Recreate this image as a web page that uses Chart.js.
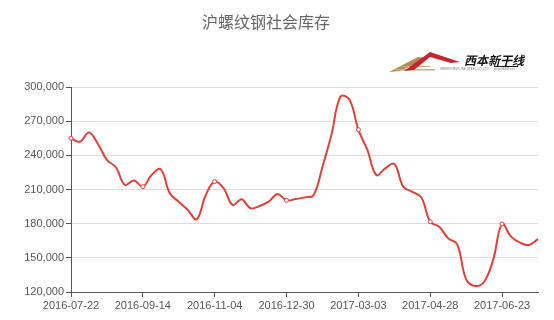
<!DOCTYPE html>
<html>
<head>
<meta charset="utf-8">
<script src="https://cdn.jsdelivr.net/npm/chart.js@4"></script>
<style>
  html, body { margin: 0; padding: 0; background: #fff; }
  #wrap { width: 554px; height: 320px; position: relative; }
</style>
</head>
<body>
<div id="wrap"><canvas id="chart"></canvas></div>
<script>
const chartTitle = "沪螺纹钢社会库存";

const dates = [
  "2016-07-22", "2016-07-29", "2016-08-05", "2016-08-12", "2016-08-19", "2016-08-26", "2016-09-02", "2016-09-09",
  "2016-09-14", "2016-09-18", "2016-09-23", "2016-09-30", "2016-10-09", "2016-10-14", "2016-10-21", "2016-10-28",
  "2016-11-04", "2016-11-11", "2016-11-18", "2016-11-25", "2016-12-02", "2016-12-09", "2016-12-16", "2016-12-23",
  "2016-12-30", "2017-01-06", "2017-01-13", "2017-01-20", "2017-02-03", "2017-02-10", "2017-02-17", "2017-02-24",
  "2017-03-03", "2017-03-10", "2017-03-17", "2017-03-24", "2017-03-31", "2017-04-07", "2017-04-14", "2017-04-21",
  "2017-04-28", "2017-05-05", "2017-05-12", "2017-05-19", "2017-05-26", "2017-06-02", "2017-06-09", "2017-06-16",
  "2017-06-23", "2017-06-30", "2017-07-07", "2017-07-14", "2017-07-21"
];

const stock = [
  255000, 252000, 260000, 250000, 236000, 229500, 214000, 218000,
  212500, 223000, 227700, 206700, 199300, 192000, 184000, 205000,
  217000, 211000, 196400, 201400, 193500, 195500, 199300, 206000,
  200500, 201600, 203100, 205000, 230000, 258000, 291500, 289000,
  262500, 244700, 222700, 228600, 232400, 212500, 208000, 203100,
  181700, 177300, 167100, 161900, 131100, 125300, 129000, 148100,
  179700, 168600, 163300, 161300, 166500
];

const yTicks = [120000, 150000, 180000, 210000, 240000, 270000, 300000];
const labelStep = 8;

const axisColor = "#555";
const gridColor = "#dcdcdc";
const lineColor = "#e0403a";

// title + logo drawn on the canvas
const decorPlugin = {
  id: "decor",
  afterDraw(chart) {
    const ctx = chart.ctx;
    ctx.save();
    ctx.fillStyle = "#666";
    ctx.font = '16px "Noto Sans CJK SC", sans-serif';
    ctx.textAlign = "center";
    ctx.textBaseline = "middle";
    ctx.fillText(chartTitle, 266, 22);

    // logo swooshes
    ctx.fillStyle = "#b08a58";
    ctx.beginPath();
    ctx.moveTo(389, 72);
    ctx.lineTo(418, 57);
    ctx.lineTo(428, 58);
    ctx.lineTo(400, 71);
    ctx.closePath();
    ctx.fill();
    ctx.fillStyle = "#cfae78";
    ctx.fillRect(395, 69, 40, 1.5);
    ctx.fillRect(400, 66, 30, 1);
    ctx.fillStyle = "#c4262e";
    ctx.beginPath();
    ctx.moveTo(404, 71);
    ctx.lineTo(430, 52);
    ctx.lineTo(460, 62);
    ctx.lineTo(451, 63);
    ctx.lineTo(430, 57);
    ctx.lineTo(414, 70);
    ctx.closePath();
    ctx.fill();

    ctx.fillStyle = "#111";
    ctx.textAlign = "left";
    ctx.textBaseline = "alphabetic";
    ctx.font = 'italic bold 12px "Noto Sans CJK SC", sans-serif';
    ctx.fillText("西本新干线", 464, 65);
    ctx.fillRect(494, 66, 24, 1);
    ctx.fillStyle = "#777";
    ctx.font = '3px "Liberation Sans", sans-serif';
    ctx.fillText("GREEN NEW LINE STEEL CO.,LTD.", 440, 70);
    ctx.fillText("www.96369.net", 494, 70);
    ctx.restore();
  },
};

new Chart(document.getElementById("chart"), {
  type: "line",
  data: {
    labels: dates,
    datasets: [
      {
        label: chartTitle,
        data: stock,
        borderColor: lineColor,
        borderWidth: 2,
        tension: 0.4,
        fill: false,
        pointRadius: (c) => (c.dataIndex % labelStep === 0 ? 2 : 0),
        pointBackgroundColor: "#fff",
        pointBorderColor: lineColor,
        pointBorderWidth: 1,
      },
    ],
  },
  options: {
    responsive: true,
    maintainAspectRatio: false,
    animation: false,
    layout: { padding: { top: 87, right: 16, bottom: 0, left: 0 } },
    plugins: {
      legend: { display: false },
      tooltip: { enabled: false },
    },
    scales: {
      x: {
        offset: false,
        border: { color: axisColor, width: 1 },
        grid: {
          drawOnChartArea: false,
          tickLength: 5,
          color: (c) => (c.index % labelStep === 0 ? axisColor : "transparent"),
        },
        ticks: {
          autoSkip: false,
          maxRotation: 0,
          color: "#555",
          padding: 2,
          font: { family: '"Liberation Sans", Arial, sans-serif', size: 11 },
          callback: (v, i) => (i % labelStep === 0 ? dates[i] : ""),
        },
        afterFit: (s) => { s.height = 28; },
      },
      y: {
        min: yTicks[0],
        max: yTicks[yTicks.length - 1],
        border: { color: axisColor, width: 1 },
        grid: { color: gridColor, tickColor: axisColor, tickLength: 5 },
        afterBuildTicks: (s) => { s.ticks = yTicks.map((v) => ({ value: v })); },
        ticks: {
          color: "#555",
          padding: 2,
          font: { family: '"Liberation Sans", Arial, sans-serif', size: 11 },
          callback: (v) => v.toLocaleString("en-US"),
        },
        afterFit: (s) => { s.width = 71; },
      },
    },
  },
  plugins: [decorPlugin],
});
</script>
</body>
</html>
